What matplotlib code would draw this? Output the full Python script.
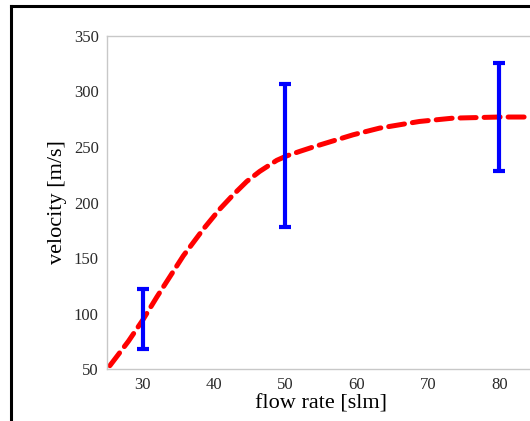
import matplotlib
matplotlib.use("Agg")
import matplotlib.pyplot as plt
from matplotlib.lines import Line2D

plt.rcParams['font.family'] = ['Liberation Serif', 'DejaVu Serif']

# measured points with error bars
flow = [30, 50, 80]
vel = [95, 243, 277]
vel_lo = [68, 178, 228]
vel_hi = [122, 307, 326]

# fitted curve (dashed)
fit_x = [25.4, 28, 30, 32, 35.7, 38.5, 40.8, 42.7, 44.6, 46.4, 48.8, 50.2, 52, 53.9, 59.5, 63.2, 68.8, 73.5, 80, 85]
fit_y = [53, 75, 94, 115, 152, 176, 194, 207, 219, 228, 238, 242, 246, 250, 261, 267, 273, 276, 277, 277]

fig = plt.figure(figsize=(5.3, 4.21), dpi=100)
ax = fig.add_axes([0.2019, 0.1235, 0.8075, 0.791])

ax.plot(fit_x, fit_y, color='red', ls=(0, (3.2, 1.6)), lw=3.6, dash_capstyle='round', zorder=2)
err = [[v - l for v, l in zip(vel, vel_lo)], [h - v for v, h in zip(vel, vel_hi)]]
ax.errorbar(flow, vel, yerr=err, fmt='none', ecolor='blue', elinewidth=3,
            capsize=4, capthick=3, zorder=3)

ax.set_xlim(25, 85)
ax.set_ylim(50, 350)
ax.set_xticks([30, 40, 50, 60, 70, 80])
ax.set_yticks([50, 100, 150, 200, 250, 300, 350])
for s in ax.spines.values():
    s.set_color('#c8c8c8')
    s.set_linewidth(1)
ax.tick_params(length=0, labelsize=12, labelcolor='#2a2a2a', pad=6)
ax.set_xlabel('flow rate [slm]', fontsize=16, labelpad=1)
ax.set_ylabel('velocity [m/s]', fontsize=16, labelpad=5)

# outer frame
fig.add_artist(Line2D([11/530, 11/530], [0, 1 - 6/421], color='black', lw=2.2, transform=fig.transFigure))
fig.add_artist(Line2D([11/530, 1], [1 - 6/421, 1 - 6/421], color='black', lw=2.2, transform=fig.transFigure))

plt.savefig('out.png', dpi=100)
